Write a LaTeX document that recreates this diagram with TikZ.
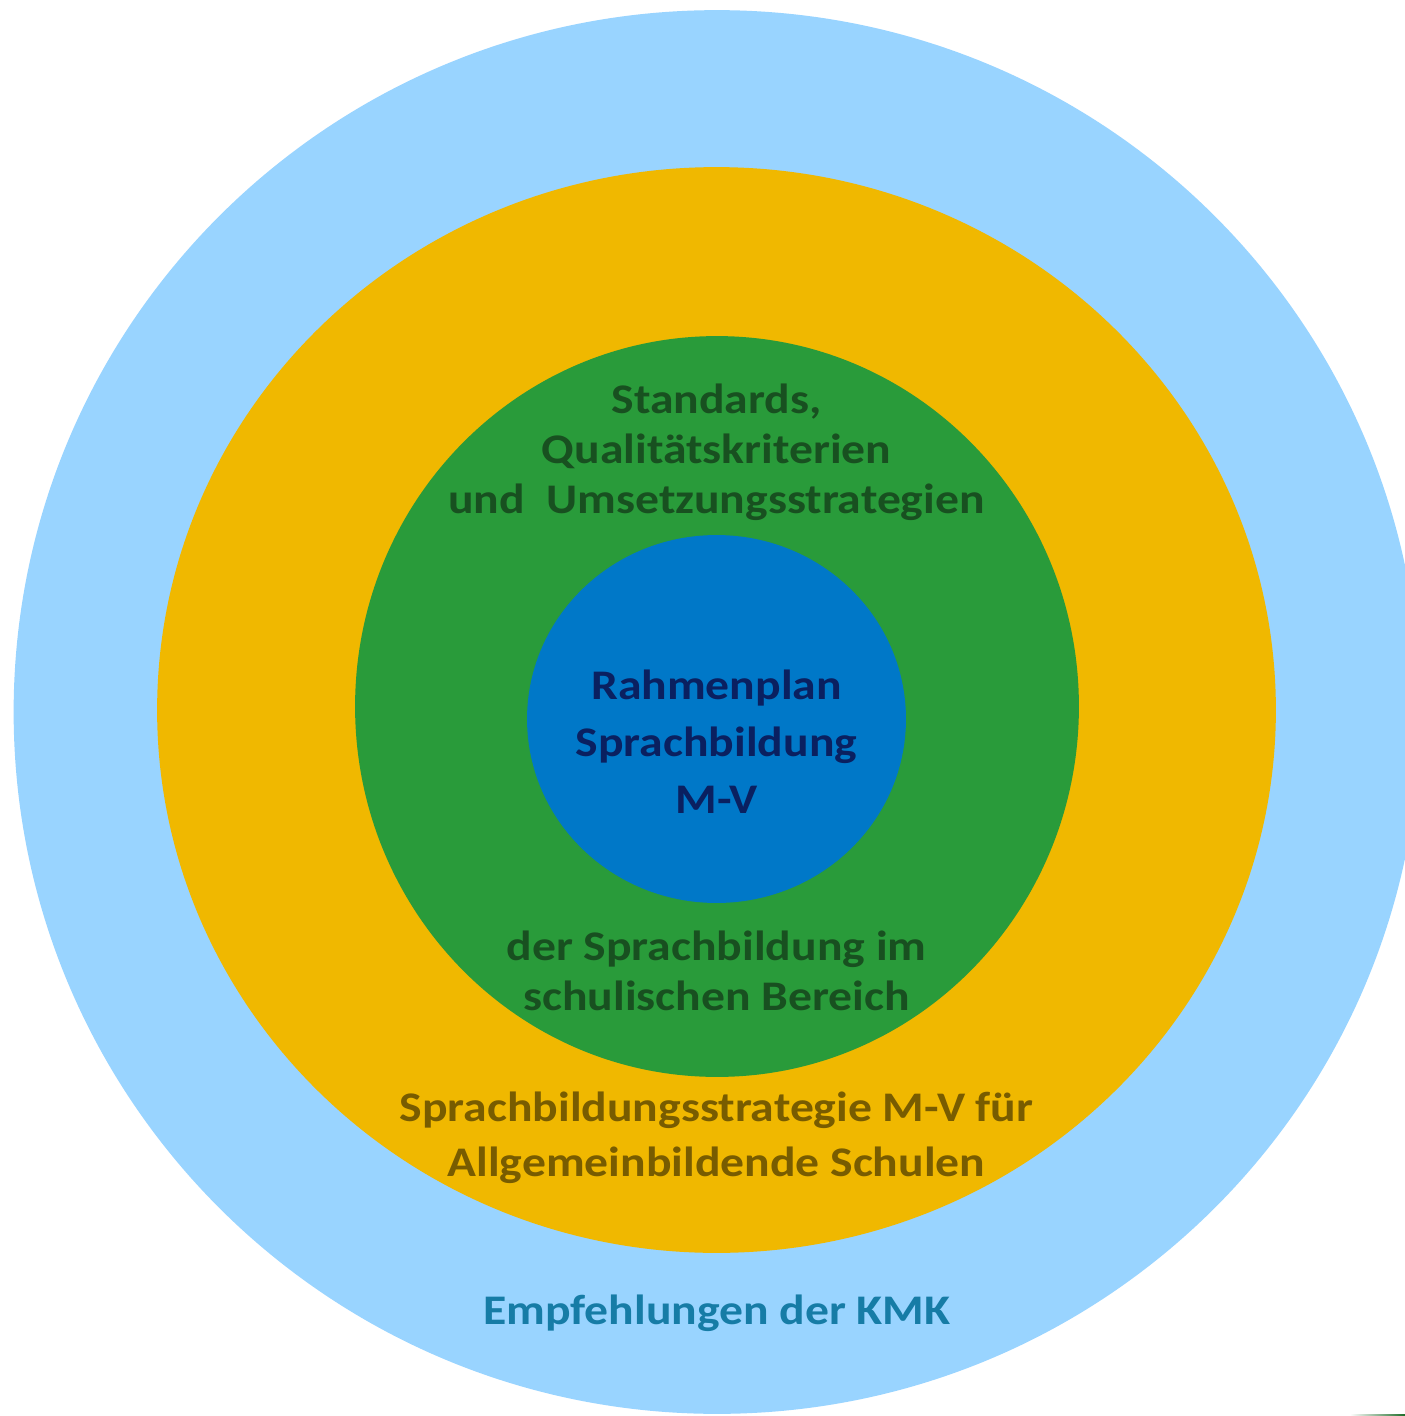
\documentclass[tikz,border=0pt]{standalone}
\usepackage{fontspec}
\setmainfont{Carlito}[FakeStretch=1.13]
\usetikzlibrary{shapes.geometric,positioning}
\definecolor{kmkblue}{RGB}{153,212,255}
\definecolor{stratorange}{RGB}{240,184,0}
\definecolor{stdgreen}{RGB}{41,155,58}
\definecolor{planblue}{RGB}{0,120,200}
\definecolor{kmktext}{RGB}{22,124,166}
\definecolor{strattext}{RGB}{120,92,0}
\definecolor{stdtext}{RGB}{24,80,32}
\definecolor{plantext}{RGB}{10,32,96}
\tikzstyle{ring} = [ellipse, inner sep=0pt, draw=none]
\tikzstyle{label} = [align=center, font=\fontsize{24}{28.5}\selectfont\bfseries, inner sep=0pt]

\begin{document}
\begin{tikzpicture}[x=0.02cm,y=-0.02cm]
\useasboundingbox (0,0) rectangle (1405,1416);
\clip (0,0) rectangle (1405,1416);
\fill[white] (0,0) rectangle (1405,1416);
% rings from outside to inside
\node (kmk) [ring, fill=kmkblue, minimum width=28.14cm, minimum height=28.08cm] at (717,712) {};
\node (strat) [ring, fill=stratorange, minimum width=22.38cm, minimum height=21.72cm] at (716.5,710) {};
\node (std) [ring, fill=stdgreen, minimum width=14.48cm, minimum height=14.82cm] at (717,706.5) {};
\node (plan) [ring, fill=planblue, minimum width=7.58cm, minimum height=7.36cm] at (716.5,719) {};
% texts
\node (plantxt) [label, text=plantext, font=\fontsize{24}{32.4}\selectfont\bfseries] at (716.5,742) {Rahmenplan\\Sprachbildung\\M-V};
\node (stdtop) [label, text=stdtext] at (716.5,452) {Standards,\\Qualitätskriterien\\und\ \ Umsetzungsstrategien};
\node (stdbot) [label, text=stdtext] at (716.5,971) {der Sprachbildung im\\schulischen Bereich};
\node (strattxt) [label, text=strattext, font=\fontsize{24}{31.3}\selectfont\bfseries] at (716.5,1138) {Sprachbildungsstrategie M-V für\\Allgemeinbildende Schulen};
\node (kmktxt) [label, text=kmktext] at (717,1313) {Empfehlungen der KMK};
% edge at bottom right
\shade[left color=white, right color=stdgreen!70!black] (1350,1414) rectangle (1405,1416);
\end{tikzpicture}
\end{document}
